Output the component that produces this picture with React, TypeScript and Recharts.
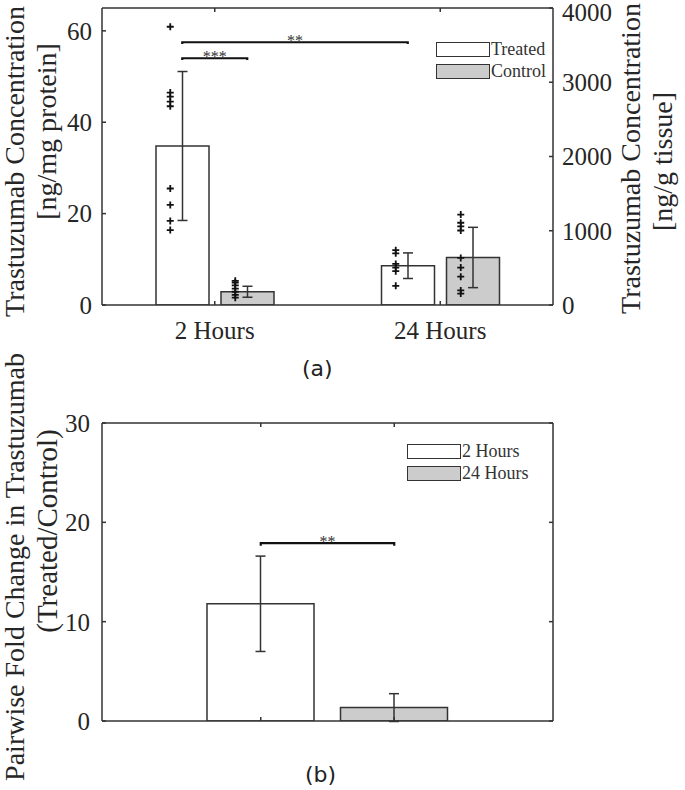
import { Bar, Cell, ComposedChart, ErrorBar, Legend, Line, ReferenceDot, Scatter, XAxis, YAxis } from "recharts";

const SERIF = "Liberation Serif";
const INK = "#262626";
const EDGE = "#333333";

// panel (a): antibody concentration
const timepoints = ["2 Hours", "24 Hours"];
const treatedMean = [34.8, 8.6];
const treatedSd = [16.3, 2.8];
const controlMean = [2.9, 10.4];
const controlSd = [1.2, 6.6];
const treatedReps = [
  [60.9, 46.5, 45.6, 44.5, 43.5, 25.5, 21.9, 18.4, 16.4],
  [12.0, 11.3, 9.0, 8.2, 7.4, 4.2],
];
const controlReps = [
  [5.3, 4.9, 4.3, 3.6, 2.9, 2.2, 1.6],
  [19.8, 18.0, 17.2, 16.3, 10.3, 8.2, 6.2, 3.2, 2.5],
];
const proteinTicks = [0, 20, 40, 60];
const tissueTicks = [0, 1000, 2000, 3000, 4000];
// brackets: [group, series] -> [group, series]
const sigA = [
  { from: [0, 0], to: [0, 1], y: 54, stars: "***" },
  { from: [0, 0], to: [1, 0], y: 57.5, stars: "**" },
];

// panel (b): pairwise fold change
const foldMean = [11.8, 1.35];
const foldSd = [4.8, 1.4];
const foldTicks = [0, 10, 20, 30];
const foldFills = ["#ffffff", "#cccccc"];
const sigB = { y: 17.9, stars: "**" };

const groupData = timepoints.map((time, i) => ({
  time,
  treated: treatedMean[i],
  treatedSd: treatedSd[i],
  control: controlMean[i],
  controlSd: controlSd[i],
}));
const foldData = timepoints.map((time, i) => ({ time, fold: foldMean[i], foldSd: foldSd[i] }));

// geometry of panel (a) in numeric x units (group i sits at i + 1)
const BAR_A = 53;
const GAP_A = 12;
const BAND_A = 451 / 2;
const seriesOffset = (BAR_A + GAP_A) / 2 / BAND_A;
const repShift = 12 / BAND_A;
const barX = (g: number, s: number) => g + 1 + (s === 0 ? -seriesOffset : seriesOffset);

const treatedPts = treatedReps.flatMap((vals, g) => vals.map((y) => ({ x: barX(g, 0) - repShift, y })));
const controlPts = controlReps.flatMap((vals, g) => vals.map((y) => ({ x: barX(g, 1) - repShift, y })));

const bracket = (x1: number, x2: number, y: number, dip: number) => [
  { x: x1, y: y - dip },
  { x: x1, y },
  { x: x2, y },
  { x: x2, y: y - dip },
];

const Plus = (p: any) => (
  <path d={`M${p.cx - 3.5},${p.cy}h7M${p.cx},${p.cy - 3.5}v7`} stroke="#111" strokeWidth={1.8} fill="none" />
);

// two-line rotated axis title; xs = baseline offsets from the axis box, dys = shift of each line's centre
function AxisTitle({ viewBox, lines, xs, dys, sizes = [28, 28] }: any) {
  const mid = viewBox.y + viewBox.height / 2;
  return (
    <g>
      {lines.map((t: string, i: number) => {
        const x = viewBox.x + xs[i];
        const cy = mid + dys[i];
        return (
          <text
            key={t}
            x={x}
            y={cy}
            transform={`rotate(-90 ${x} ${cy})`}
            textAnchor="middle"
            fontFamily={SERIF}
            fontSize={sizes[i]}
            fill={INK}
          >
            {t}
          </text>
        );
      })}
    </g>
  );
}

// right-hand tick labels; the top one is kept inside the picture
const RightTick = (p: any) => (
  <text x={p.x} y={Math.max(p.y, 12)} dy="0.355em" textAnchor="start" fill={INK} fontSize={25} fontFamily={SERIF}>
    {p.payload.value}
  </text>
);

function BoxLegend({ items }: { items: { label: string; fill: string }[] }) {
  return (
    <div style={{ display: "flex", flexDirection: "column", gap: 6 }}>
      {items.map((it) => (
        <div key={it.label} style={{ display: "flex", alignItems: "center", height: 16 }}>
          <div style={{ width: 52, height: 13, background: it.fill, border: `1.5px solid ${EDGE}` }} />
          <span style={{ fontFamily: SERIF, fontSize: 18, color: "#333", marginLeft: 1, lineHeight: "16px" }}>
            {it.label}
          </span>
        </div>
      ))}
    </div>
  );
}

const tickFont = { fill: INK, fontSize: 25, fontFamily: SERIF };
const blank = () => "";

export default function App() {
  return (
    <div style={{ position: "absolute", left: 0, top: 0, width: 685, height: 790, background: "#fff" }}>
      <ComposedChart
        width={685}
        height={345}
        data={groupData}
        margin={{ top: 7, right: 0, bottom: 0, left: 0 }}
        barSize={BAR_A}
        barGap={GAP_A}
      >
        <XAxis
          xAxisId="cat"
          dataKey="time"
          height={40}
          stroke={EDGE}
          strokeWidth={1.5}
          tickSize={-4}
          tickMargin={20}
          tick={tickFont}
          interval={0}
        />
        <XAxis
          xAxisId="num"
          type="number"
          dataKey="x"
          orientation="top"
          domain={[0.5, 2.5]}
          ticks={[1, 2]}
          tickFormatter={blank}
          tickSize={-4}
          height={1}
          stroke={EDGE}
          strokeWidth={1.5}
          interval={0}
          allowDataOverflow
        />
        <YAxis
          yAxisId="left"
          domain={[0, 65]}
          ticks={proteinTicks}
          width={102}
          stroke={EDGE}
          strokeWidth={1.5}
          tickSize={-4}
          tickMargin={14}
          tick={tickFont}
          interval={0}
          allowDataOverflow
          label={<AxisTitle lines={["Trastuzumab Concentration", "[ng/mg protein]"]} xs={[24, 56]} dys={[5, -25]} />}
        />
        <YAxis
          yAxisId="right"
          orientation="right"
          domain={[0, 4000]}
          ticks={tissueTicks}
          width={132}
          stroke={EDGE}
          strokeWidth={1.5}
          tickSize={-4}
          tickMargin={13}
          tick={RightTick}
          interval={0}
          allowDataOverflow
          label={<AxisTitle lines={["Trastuzumab Concentration", "[ng/g tissue]"]} xs={[87, 119]} dys={[2, 5]} />}
        />
        <Legend
          layout="vertical"
          align="center"
          verticalAlign="middle"
          wrapperStyle={{ left: 436, top: 41, width: "auto" }}
          content={() => (
            <BoxLegend
              items={[
                { label: "Treated", fill: "#ffffff" },
                { label: "Control", fill: "#cccccc" },
              ]}
            />
          )}
        />
        <Bar xAxisId="cat" yAxisId="left" dataKey="treated" name="Treated" fill="#ffffff" stroke={EDGE} strokeWidth={1.5} isAnimationActive={false}>
          <ErrorBar dataKey="treatedSd" width={5} stroke={EDGE} strokeWidth={1.5} />
        </Bar>
        <Bar xAxisId="cat" yAxisId="left" dataKey="control" name="Control" fill="#cccccc" stroke={EDGE} strokeWidth={1.5} isAnimationActive={false}>
          <ErrorBar dataKey="controlSd" width={5} stroke={EDGE} strokeWidth={1.5} />
        </Bar>
        <Scatter xAxisId="num" yAxisId="left" data={treatedPts} dataKey="y" shape={Plus} isAnimationActive={false} legendType="none" />
        <Scatter xAxisId="num" yAxisId="left" data={controlPts} dataKey="y" shape={Plus} isAnimationActive={false} legendType="none" />
        {sigA.map((s) => {
          const x1 = barX(s.from[0], s.from[1]);
          const x2 = barX(s.to[0], s.to[1]);
          return [
            <Line
              key={s.stars + "l"}
              xAxisId="num"
              yAxisId="left"
              data={bracket(x1, x2, s.y, 0.4)}
              dataKey="y"
              stroke="#111"
              strokeWidth={2.2}
              dot={false}
              activeDot={false}
              legendType="none"
              isAnimationActive={false}
            />,
            <ReferenceDot
              key={s.stars + "d"}
              xAxisId="num"
              yAxisId="left"
              x={(x1 + x2) / 2}
              y={s.y}
              r={0}
              fill="none"
              stroke="none"
              label={{ value: s.stars, position: "top", offset: -4, fill: EDGE, fontSize: 16, fontFamily: SERIF }}
            />,
          ];
        })}
      </ComposedChart>

      <div style={{ position: "absolute", left: 302, top: 356, fontFamily: '"DejaVu Sans"', fontSize: 22, color: "#222" }}>(a)</div>

      <div style={{ position: "absolute", left: 0, top: 340 }}>
        <ComposedChart width={685} height={450} data={foldData} margin={{ top: 82, right: 0, bottom: 59, left: 0 }} barSize={107}>
          <XAxis
            xAxisId="cat"
            dataKey="time"
            height={10}
            padding={{ left: 92, right: 92 }}
            stroke={EDGE}
            strokeWidth={1.5}
            tickSize={-4}
            tickFormatter={blank}
            interval={0}
          />
          <XAxis
            xAxisId="num"
            type="number"
            dataKey="x"
            orientation="top"
            domain={[0.5, 2.5]}
            padding={{ left: 92, right: 92 }}
            ticks={[1, 2]}
            tickFormatter={blank}
            tickSize={-4}
            height={1}
            stroke={EDGE}
            strokeWidth={1.5}
            interval={0}
            allowDataOverflow
          />
          <YAxis
            yAxisId="left"
            domain={[0, 30]}
            ticks={foldTicks}
            width={102}
            stroke={EDGE}
            strokeWidth={1.5}
            tickSize={-4}
            tickMargin={16}
            tick={tickFont}
            interval={0}
            allowDataOverflow
            label={
              <AxisTitle
                lines={["Pairwise Fold Change in Trastuzumab", "(Treated/Control)"]}
                xs={[24, 57]}
                dys={[-5, -41]}
                sizes={[28, 29]}
              />
            }
          />
          <YAxis
            yAxisId="right"
            orientation="right"
            domain={[0, 30]}
            ticks={foldTicks}
            width={132}
            stroke={EDGE}
            strokeWidth={1.5}
            tickSize={-4}
            tickFormatter={blank}
            interval={0}
            allowDataOverflow
          />
          <Legend
            layout="vertical"
            align="center"
            verticalAlign="middle"
            wrapperStyle={{ left: 407, top: 103, width: "auto" }}
            content={() => <BoxLegend items={timepoints.map((t, i) => ({ label: t, fill: foldFills[i] }))} />}
          />
          <Bar xAxisId="cat" yAxisId="left" dataKey="fold" stroke={EDGE} strokeWidth={1.5} isAnimationActive={false}>
            {foldData.map((d, i) => (
              <Cell key={d.time} fill={foldFills[i]} />
            ))}
            <ErrorBar dataKey="foldSd" width={5} stroke={EDGE} strokeWidth={1.5} />
          </Bar>
          <Line
            xAxisId="num"
            yAxisId="left"
            data={bracket(1, 2, sigB.y, 0.25)}
            dataKey="y"
            stroke="#111"
            strokeWidth={2.2}
            dot={false}
            activeDot={false}
            legendType="none"
            isAnimationActive={false}
          />
          <ReferenceDot
            xAxisId="num"
            yAxisId="left"
            x={1.5}
            y={sigB.y}
            r={0}
            fill="none"
            stroke="none"
            label={{ value: sigB.stars, position: "top", offset: -4, fill: EDGE, fontSize: 16, fontFamily: SERIF }}
          />
        </ComposedChart>
      </div>

      <div style={{ position: "absolute", left: 305, top: 762, fontFamily: '"DejaVu Sans"', fontSize: 22, color: "#222" }}>(b)</div>
    </div>
  );
}
